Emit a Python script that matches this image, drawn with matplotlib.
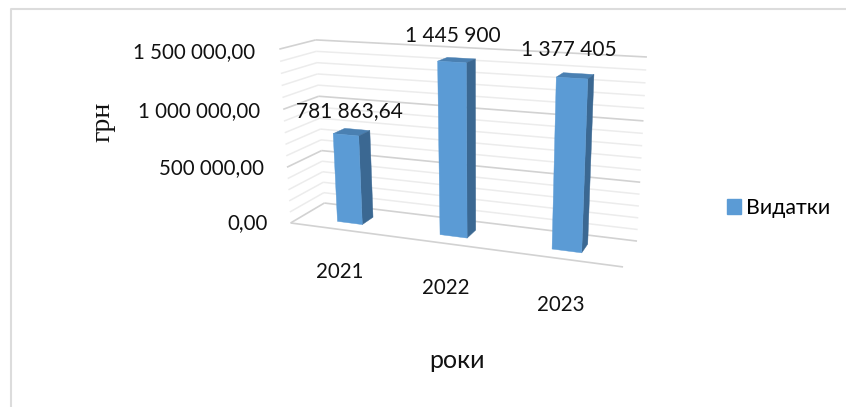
#!/usr/bin/env python

import numpy as np
import matplotlib
matplotlib.use("Agg")
import matplotlib.pyplot as plt
from matplotlib.lines import Line2D
from matplotlib.patches import Patch
from matplotlib.text import Text
from mpl_toolkits.mplot3d.art3d import Line3DCollection, Poly3DCollection

years = ["2021", "2022", "2023"]
spending = [781863.64, 1445900, 1377405]
spending_labels = ["781 863,64", "1 445 900", "1 377 405"]
major_ticks = [0, 500000, 1000000, 1500000]
minor_step = 100000
series_name = "Видатки"

W, H = 846, 407
VMAX = major_ticks[-1]
FONT = ["Lato", "Open Sans", "DejaVu Sans"]
TEXT = "#111111"
FRONT, SIDE, TOP = "#5b9bd5", "#3b6892", "#4a80b2"


def camera_matrix():
  # camera for the chart box: (category, depth, value/VMAX) -> image pixels
  world = [(0, 1, 0), (3, 1, 0), (0, 1, 1), (3, 1, 1), (0, 0, 0), (3, 0, 0), (0, 0, 1)]
  image = [(325, 203), (637, 241), (315, 40), (647, 57), (290, 223), (623, 267), (280, 49)]
  A, b = [], []
  for (x, d, v), (u, w) in zip(world, image):
    A.append([x, d, v, 1, 0, 0, 0, 0, -u*x, -u*d, -u*v])
    b.append(u)
    A.append([0, 0, 0, 0, x, d, v, 1, -w*x, -w*d, -w*v])
    b.append(w)
  p = np.linalg.lstsq(np.array(A, float), np.array(b, float), rcond=None)[0]
  P = np.append(p, 1).reshape(3, 4)
  P[:, 2] /= VMAX
  return P


fig = plt.figure(figsize=(W/100, H/100), dpi=100, facecolor="white")
ax = fig.add_axes([0, 0, 1, 1], projection="3d")
ax.set_xlim(0, 3)
ax.set_ylim(0, 1)
ax.set_zlim(0, VMAX)
ax.set_xticks([])
ax.set_yticks([])
ax.set_zticks([])
ax.set_axis_off()
ax.computed_zorder = False
ax.patch.set_alpha(0)
ax.apply_aspect()

P = camera_matrix()
inv = ax.transData.inverted()
o = inv.transform((0, 0))
s = inv.transform((1, 1)) - o
to_ax = np.array([[s[0], 0, 0, o[0]], [0, s[1], 0, o[1]], [0, 0, 1, 0], [0, 0, 0, 1]])
M = to_ax @ np.vstack([P[0], H*P[2] - P[1], [0, 1, 0, 0], P[2]])
ax.get_proj = lambda: M

# walls
minor_segs, major_segs = [], []
for v in np.arange(0, VMAX + 1, minor_step):
  segs = major_segs if v in major_ticks else minor_segs
  segs.append([(0, 0, v), (0, 1, v)])
  segs.append([(0, 1, v), (3, 1, v)])
major_segs.append([(0, 0, 0), (3, 0, 0)])
ax.add_collection3d(Line3DCollection(minor_segs, colors="#ececec", linewidths=1.1, zorder=1,
                                     clip_on=False))
ax.add_collection3d(Line3DCollection(major_segs, colors="#d2d2d2", linewidths=1.2, zorder=2,
                                     clip_on=False))

# bars, only the three faces the camera sees
bar_w, d0, d1 = 0.25, 0.30, 0.65
label_dx = [0.543, 0.506, 0.47]
for i, val in enumerate(spending):
  x0, x1 = i + 0.5 - bar_w/2, i + 0.5 + bar_w/2
  front = [(x0, d0, 0), (x1, d0, 0), (x1, d0, val), (x0, d0, val)]
  side = [(x1, d0, 0), (x1, d1, 0), (x1, d1, val), (x1, d0, val)]
  top = [(x0, d0, val), (x1, d0, val), (x1, d1, val), (x0, d1, val)]
  cols = [FRONT, SIDE, TOP]
  ax.add_collection3d(Poly3DCollection([front, side, top], facecolors=cols, edgecolors=cols,
                                       linewidths=0.3, zorder=3 + i, clip_on=False))
  ax.text(i + label_dx[i], d0, val + 205000, spending_labels[i], ha="center", va="center",
          fontsize=15, family=FONT, color=TEXT, zorder=10)
  ax.text(i + 0.48 + 0.015*i, 0, -390000, years[i], ha="center", va="center",
          fontsize=14.8, family=FONT, color=TEXT, zorder=10)

for v in major_ticks:
  lab = f"{v:,.2f}".replace(",", " ").replace(".", ",")
  ax.text(-0.24, 0, v - 32000, lab, ha="right", va="center", fontsize=14.8, family=FONT,
          color=TEXT, zorder=10)

fig.text(103/W, 1 - 122/H, "грн", rotation=90, ha="center", va="center", fontsize=20,
         family=["Liberation Serif"], color=TEXT)
fig.text(457/W, 1 - 360/H, "роки", ha="center", va="center", fontsize=18, family=FONT,
         color=TEXT)

fig.legend(handles=[Patch(color=FRONT, label=series_name)], loc="center left",
           bbox_to_anchor=(727/W, 1 - 208/H), frameon=False, handlelength=0.65, handleheight=0.65,
           handletextpad=0.25, borderpad=0, borderaxespad=0, prop={"family": FONT, "size": 15.4})

# chart frame, only top and left show
fig.add_artist(Line2D([11/W, 11/W, 1], [0, 1 - 9/H, 1 - 9/H], color="#dcdcdc", lw=1.5))

# the hidden 3d axes still carry empty title and axis texts
for t in ax.findobj(Text):
  if not t.get_text():
    t.set_visible(False)

fig.savefig("out.png", dpi=100)
